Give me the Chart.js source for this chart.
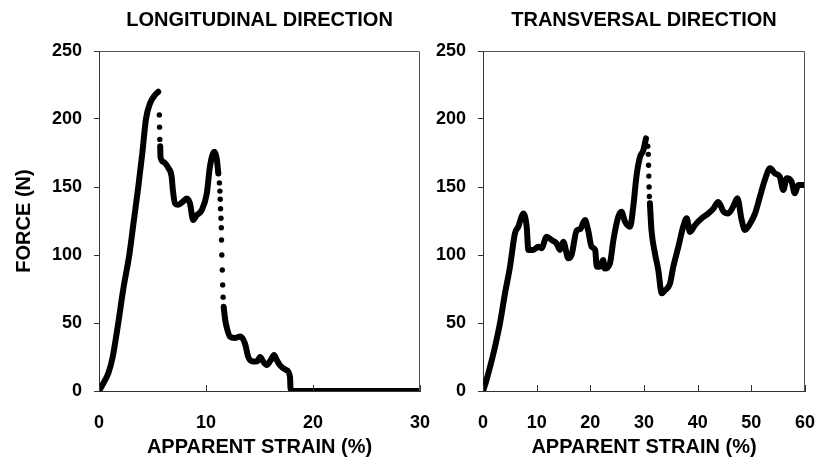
<!DOCTYPE html>
<html>
<head>
<meta charset="utf-8">
<script src="https://cdn.jsdelivr.net/npm/chart.js@4"></script>
<style>
  body { margin: 0; background: #fff; }
  #wrap { position: relative; width: 818px; height: 462px; }
  canvas { position: absolute; top: 0; }
  #longChart { left: 0; }
  #transChart { left: 410px; }
</style>
</head>
<body>
<div id="wrap">
  <canvas id="longChart" width="440" height="462"></canvas>
  <canvas id="transChart" width="408" height="462"></canvas>
</div>
<script>
// longitudinal test: strain (%) / force (N)
var longStrain = [0, 0.4, 0.87, 1.28, 1.8, 2.27, 2.83, 3.25, 3.67, 4.05, 4.39, 4.77, 5.23, 5.54,
  null,
  5.72, 5.75, 6.0, 6.48, 6.79, 6.9, 7.1, 7.4, 7.8, 8.2, 8.5, 8.8, 9.1, 9.6, 10.07, 10.37, 10.78, 11.0, 11.15,
  null,
  11.65, 11.8, 11.93, 12.24, 12.7, 13.2, 13.64, 13.95, 14.4, 14.8, 15.05, 15.4, 15.67, 16.0, 16.36, 16.6, 16.9, 17.5, 17.85, 17.9, 18.1, 30];
var longForce = [0, 5.6, 13, 25, 50, 75, 100, 125, 150, 175, 200, 211.5, 217.6, 220,
  null,
  180, 172, 168.6, 164, 157.6, 148, 138, 137, 139, 141.6, 138, 125.7, 129, 133, 145, 165, 176, 171, 160,
  null,
  62, 52, 47, 40, 39, 40, 35, 25, 21.6, 22, 25, 21, 19, 22, 26.5, 23, 19, 15.4, 10.5, 2, 0, 0];
// sparse readings during the fast drops
var longDropStrain = [5.64, 5.66, 5.68, 11.25, 11.3, 11.33, 11.36, 11.4, 11.43, 11.45, 11.48, 11.52, 11.56, 11.6];
var longDropForce = [203, 194, 185, 153, 147, 141, 134, 127, 120, 111, 100, 89, 78, 69];

// transversal test
var transStrain = [0, 0.5, 0.99, 1.6, 2.24, 3.17, 4.1, 5.03, 5.96, 6.58, 7.0, 7.5, 8.14, 8.45, 9.37, 10.3, 10.9,
  11.87, 12.8, 13.7, 14.35, 14.96, 15.9, 16.5, 17.46, 18.1, 19.0, 19.6, 20.25, 20.9, 21.2, 21.8, 22.4, 22.7,
  23.66, 24.3, 25.2, 25.8, 26.46, 27.4, 28.0, 28.6, 29.25, 29.87, 30.37,
  null,
  31.1, 31.4, 32.05, 32.66, 33.3, 33.9, 34.84, 35.46, 36.4, 37.3, 37.95, 38.57, 39.5, 40.75, 42, 42.9, 43.84,
  44.8, 45.7, 46.6, 47.4, 48.2, 48.8, 49.75, 50.7, 51.6, 52.5, 53.5, 54.4, 55.3, 55.95, 56.6, 57.5, 58.1, 58.75, 60];
var transForce = [0, 6, 13, 22, 32.6, 50, 71.8, 91.4, 116, 120.8, 126, 130.6, 120.8, 103.7, 103.7, 106, 105,
  113.5, 111, 108.6, 103.7, 109.8, 97.6, 100, 118, 119, 125.7, 118, 106, 103.7, 91.4, 91.4, 96.3, 90,
  93.9, 111, 128, 131.8, 124.5, 120.8, 135.5, 158, 172, 177, 185.8,
  null,
  138, 118, 101, 89, 71.8, 74, 79, 91.4, 106, 120.8, 127, 117, 122, 127, 130.6, 134, 139,
  132, 130.6, 135.5, 141.7, 125.7, 118.4, 123, 130.6, 142.9, 155, 163.7, 160, 157.6, 147.8, 156.4, 153.9, 145.4, 151.5, 151.5];
var transDropStrain = [30.7, 30.8, 30.85, 30.9, 30.95, 31.0];
var transDropForce = [180, 174, 166, 158, 150, 143];

var forceTicks = [0, 50, 100, 150, 200, 250];

function pairs(xs, ys) {
  return xs.map(function(x, i) {
    return { x: x === null ? NaN : x, y: ys[i] };
  });
}

// inward ticks on the x axis and the frame around the plot
var frame = {
  id: "frame",
  afterDraw: function(chart) {
    var ctx = chart.ctx;
    var a = chart.chartArea;
    var xs = chart.scales.x;
    ctx.save();
    ctx.strokeStyle = "#333";
    ctx.lineWidth = 1;
    xs.ticks.forEach(function(t) {
      var px = Math.round(xs.getPixelForValue(t.value)) + 0.5;
      ctx.beginPath();
      ctx.moveTo(px, a.bottom);
      ctx.lineTo(px, a.bottom - 6);
      ctx.stroke();
    });
    ctx.strokeStyle = "#555";
    ctx.beginPath();
    ctx.moveTo(a.left, a.top + 0.5);
    ctx.lineTo(a.right - 0.5, a.top + 0.5);
    ctx.lineTo(a.right - 0.5, a.bottom);
    ctx.stroke();
    ctx.restore();
  }
};

function makeChart(id, opts) {
  var tickFont = { family: "'Liberation Sans', Arial, sans-serif", size: 18, weight: "bold" };
  var titleFont = { family: "'Liberation Sans', Arial, sans-serif", size: 20, weight: "bold" };
  return new Chart(document.getElementById(id), {
    type: "scatter",
    data: {
      datasets: [
        {
          data: pairs(opts.strain, opts.force),
          showLine: true,
          spanGaps: false,
          borderColor: "#000",
          borderWidth: 6,
          borderJoinStyle: "round",
          borderCapStyle: "round",
          pointRadius: 0,
          cubicInterpolationMode: "monotone"
        },
        {
          data: pairs(opts.dropStrain, opts.dropForce),
          showLine: false,
          backgroundColor: "#000",
          borderWidth: 0,
          pointRadius: 2.7
        }
      ]
    },
    options: {
      responsive: false,
      animation: false,
      devicePixelRatio: 1,
      layout: { padding: { top: 8, right: opts.padRight, left: 0, bottom: 0 } },
      plugins: {
        legend: { display: false },
        tooltip: { enabled: false },
        title: {
          display: true,
          text: opts.title,
          fullSize: false,
          color: "#000",
          font: titleFont,
          padding: { top: 0, bottom: 19 }
        }
      },
      scales: {
        x: {
          type: "linear",
          min: 0,
          max: opts.xMax,
          afterBuildTicks: function(s) {
            s.ticks = opts.xTicks.map(function(v) { return { value: v }; });
          },
          afterFit: function(s) {
            s.height = 71;
            s.paddingLeft = 0;
            s.paddingRight = 0;
          },
          grid: { display: true, drawOnChartArea: false, drawTicks: false, color: "#333" },
          border: { display: true, color: "#333", width: 1 },
          ticks: { color: "#000", font: tickFont, padding: 21, autoSkip: false, maxRotation: 0 },
          title: {
            display: true,
            text: "APPARENT STRAIN (%)",
            color: "#000",
            font: titleFont,
            padding: { top: 0, bottom: 3 }
          }
        },
        y: {
          type: "linear",
          min: 0,
          max: 250,
          afterBuildTicks: function(s) {
            s.ticks = forceTicks.map(function(v) { return { value: v }; });
          },
          afterFit: function(s) {
            s.width = opts.yWidth;
            s.paddingTop = 0;
            s.paddingBottom = 0;
          },
          grid: { display: true, drawOnChartArea: false, drawTicks: true, tickLength: 5, color: "#333" },
          border: { display: true, color: "#333", width: 1 },
          ticks: { color: "#000", font: tickFont, padding: 12 },
          title: {
            display: opts.yTitle,
            text: "FORCE (N)",
            color: "#000",
            font: titleFont,
            padding: { top: 12, bottom: 0 }
          }
        }
      }
    },
    plugins: [frame]
  });
}

makeChart("longChart", {
  title: "LONGITUDINAL DIRECTION",
  strain: longStrain, force: longForce,
  dropStrain: longDropStrain, dropForce: longDropForce,
  xMax: 30, xTicks: [0, 10, 20, 30],
  yWidth: 99, padRight: 20, yTitle: true
});

makeChart("transChart", {
  title: "TRANSVERSAL DIRECTION",
  strain: transStrain, force: transForce,
  dropStrain: transDropStrain, dropForce: transDropForce,
  xMax: 60, xTicks: [0, 10, 20, 30, 40, 50, 60],
  yWidth: 73, padRight: 13, yTitle: false
});
</script>
</body>
</html>
